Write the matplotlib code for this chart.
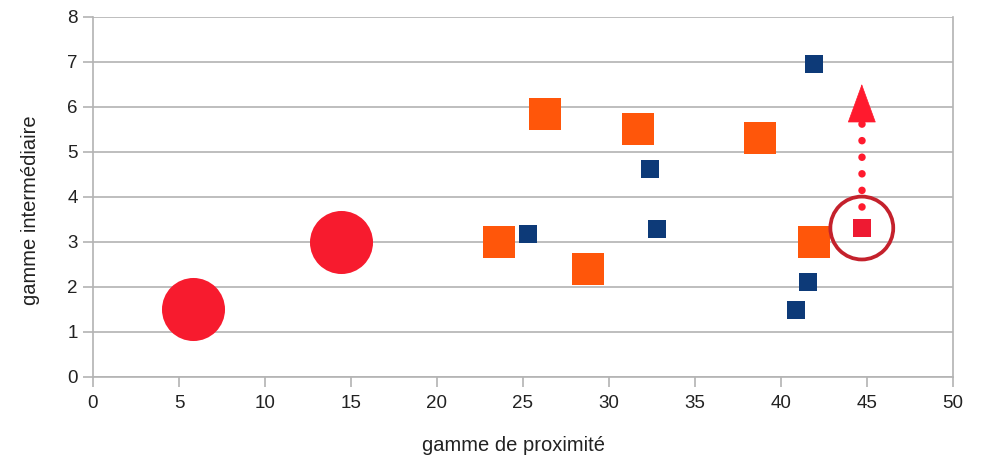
import matplotlib.pyplot as plt

# données
gros_x = [5.8, 14.4]
gros_y = [1.5, 3.0]

orange_x = [23.6, 26.3, 28.8, 31.7, 38.8, 41.9]
orange_y = [3.0, 5.85, 2.4, 5.5, 5.3, 3.0]

bleu_x = [25.3, 32.4, 32.8, 41.9, 41.6, 40.9]
bleu_y = [3.18, 4.62, 3.28, 6.96, 2.11, 1.49]

cible_x = [44.7]
cible_y = [3.31]

# flèche pointillée au-dessus de la cible
fleche_y = [3.78, 5.71]
pointe_y = 6.51

x_ticks = [0, 5, 10, 15, 20, 25, 30, 35, 40, 45, 50]
y_ticks = [0, 1, 2, 3, 4, 5, 6, 7, 8]

plt.rcParams['font.family'] = ['Liberation Sans', 'DejaVu Sans']

fig = plt.figure(figsize=(9.86, 4.58), dpi=100)
ax = fig.add_axes([0.0943, 0.1769, 0.8722, 0.786])

gris = '#b3b3b3'
ax.set_xlim(0, 50)
ax.set_ylim(0, 8)
ax.set_xticks(x_ticks)
ax.set_yticks(y_ticks)
ax.yaxis.grid(True, color=gris, lw=1.2)
ax.set_axisbelow(True)
for s in ['left', 'bottom', 'right']:
    ax.spines[s].set_color(gris)
    ax.spines[s].set_linewidth(1.2)
ax.spines['top'].set_visible(False)
ax.tick_params(axis='both', colors=gris, length=7, width=1.2, labelcolor='#222222', labelsize=13.5)
ax.tick_params(axis='x', pad=6)
ax.tick_params(axis='y', pad=4)

ax.scatter(gros_x, gros_y, s=2060, marker='o', color='#f71b2e', linewidths=0, zorder=3)
ax.scatter(orange_x, orange_y, s=530, marker='s', color='#ff560a', linewidths=0, zorder=3)
ax.scatter(bleu_x, bleu_y, s=150, marker='s', color='#0d3a78', linewidths=0, zorder=3)
ax.scatter(cible_x, cible_y, s=150, marker='s', color='#ee1a32', linewidths=0, zorder=4)

# cercle autour de la cible
ax.scatter(cible_x, cible_y, s=2050, marker='o', facecolors='none',
           edgecolors='#c4212c', linewidths=2.7, zorder=5)

# pointillés + pointe
ax.plot([cible_x[0], cible_x[0]], fleche_y, color='#ff1a2e', lw=5.4,
        linestyle=(0, (0.01, 2.2)), dash_capstyle='round', zorder=5)
ax.annotate('', xy=(cible_x[0], pointe_y), xytext=(cible_x[0], fleche_y[1]),
            arrowprops=dict(arrowstyle='-|>,head_length=2.66,head_width=0.97',
                            color='#ff1a2e', lw=0.5, shrinkA=0, shrinkB=0,
                            mutation_scale=10), zorder=5)

ax.set_xlabel('gamme de proximité', fontsize=14.5, color='#222222', va='center')
ax.set_ylabel('gamme intermédiaire', fontsize=14.5, color='#222222', va='center')
ax.xaxis.set_label_coords(0.4895, -0.189)
ax.yaxis.set_label_coords(-0.0725, 0.464)

fig.savefig('out.png', dpi=100)
